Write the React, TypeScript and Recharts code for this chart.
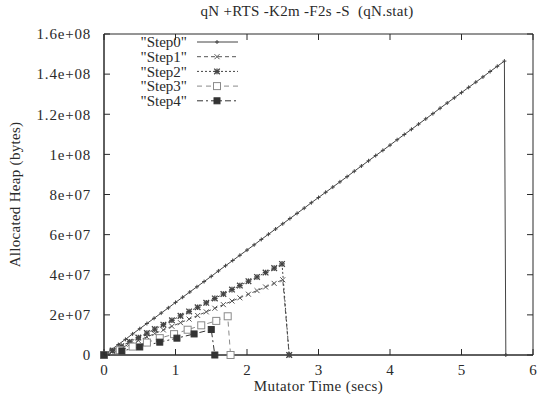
import React from 'react';
import { LineChart, Line, XAxis, YAxis, ReferenceArea } from 'recharts';

// heap values are in millions of bytes (MB), time in seconds
const step0Time = [0, 0.1, 0.2, 0.3, 0.4, 0.5, 0.6, 0.7, 0.8, 0.9, 1.0, 1.1, 1.2, 1.3, 1.4, 1.5, 1.6, 1.7, 1.8, 1.9, 2.0, 2.1, 2.2, 2.3, 2.4, 2.5, 2.6, 2.7, 2.8, 2.9, 3.0, 3.1, 3.2, 3.3, 3.4, 3.5, 3.6, 3.7, 3.8, 3.9, 4.0, 4.1, 4.2, 4.3, 4.4, 4.5, 4.6, 4.7, 4.8, 4.9, 5.0, 5.1, 5.2, 5.3, 5.4, 5.5, 5.6, 5.62];
const step0Heap = [0, 2.6, 5.2, 7.8, 10.5, 13.1, 15.7, 18.3, 20.9, 23.5, 26.2, 28.8, 31.4, 34.0, 36.6, 39.2, 41.9, 44.5, 47.1, 49.7, 52.3, 54.9, 57.6, 60.2, 62.8, 65.4, 68.0, 70.6, 73.2, 75.9, 78.5, 81.1, 83.7, 86.3, 88.9, 91.6, 94.2, 96.8, 99.4, 102.0, 104.6, 107.3, 109.9, 112.5, 115.1, 117.7, 120.3, 123.0, 125.6, 128.2, 130.8, 133.4, 136.0, 138.6, 141.3, 143.9, 146.5, 0];

const step1Time = [0, 0.12, 0.24, 0.36, 0.48, 0.6, 0.71, 0.83, 0.95, 1.07, 1.19, 1.31, 1.43, 1.55, 1.67, 1.79, 1.9, 2.02, 2.14, 2.26, 2.38, 2.5, 2.59];
const step1Heap = [0, 1.8, 3.6, 5.4, 7.2, 9.0, 10.7, 12.5, 14.3, 16.1, 17.9, 19.7, 21.5, 23.3, 25.1, 26.9, 28.5, 30.3, 32.1, 33.9, 35.7, 37.5, 0];

const step2Time = [0, 0.12, 0.24, 0.36, 0.48, 0.6, 0.71, 0.83, 0.95, 1.07, 1.19, 1.31, 1.43, 1.55, 1.67, 1.79, 1.9, 2.02, 2.14, 2.26, 2.38, 2.49, 2.59];
const step2Heap = [0, 2.2, 4.4, 6.6, 8.7, 10.9, 12.9, 15.1, 17.3, 19.5, 21.7, 23.8, 26.0, 28.2, 30.4, 32.6, 34.6, 36.8, 38.9, 41.1, 43.3, 45.4, 0];

const step3Time = [0, 0.22, 0.4, 0.6, 0.78, 0.98, 1.17, 1.36, 1.57, 1.73, 1.77];
const step3Heap = [0, 2.4, 4.2, 6.2, 8.4, 10.4, 12.6, 14.8, 17.0, 19.3, 0];

const step4Time = [0, 0.25, 0.5, 0.78, 1.02, 1.26, 1.5, 1.55];
const step4Heap = [0, 2.0, 4.0, 6.4, 8.4, 10.5, 12.7, 0];

const xTicks = [0, 1, 2, 3, 4, 5, 6];
const yTicks = [0, 20, 40, 60, 80, 100, 120, 140, 160];

const FONT = '"Liberation Serif", "Times New Roman", serif';
const INK = '#2a2a2a';
const PLOT_TOP = 34;
const PLOT_BOTTOM = 355;
const PLOT_LEFT = 104;
const PLOT_RIGHT = 533;

type MarkerKind = 'plus' | 'cross' | 'star' | 'openSquare' | 'filledSquare';

const series = [
  { name: 'Step0', time: step0Time, heap: step0Heap, kind: 'plus' as MarkerKind, dash: undefined, color: '#444' },
  { name: 'Step1', time: step1Time, heap: step1Heap, kind: 'cross' as MarkerKind, dash: '4 3', color: '#555' },
  { name: 'Step2', time: step2Time, heap: step2Heap, kind: 'star' as MarkerKind, dash: '2 2', color: '#444' },
  { name: 'Step3', time: step3Time, heap: step3Heap, kind: 'openSquare' as MarkerKind, dash: '5 4', color: '#8a8a8a' },
  { name: 'Step4', time: step4Time, heap: step4Heap, kind: 'filledSquare' as MarkerKind, dash: '6 3 2 3', color: '#333' },
];

// gnuplot-like "1.2e+08"
const fmtBytes = (v: number) => {
  if (v === 0) return '0';
  const n = v * 1e6;
  const exp = Math.floor(Math.log10(n) + 1e-9);
  const mant = Math.round((n / Math.pow(10, exp)) * 10) / 10;
  return `${mant}e+${exp < 10 ? '0' + exp : exp}`;
};

const Marker = ({ kind, cx, cy, color }: { kind: MarkerKind; cx: number; cy: number; color: string }) => {
  if (cx == null || cy == null) return null;
  switch (kind) {
    case 'plus': {
      const s = 2;
      return (
        <g stroke={color} strokeWidth={1}>
          <line x1={cx - s} x2={cx + s} y1={cy} y2={cy} />
          <line x1={cx} x2={cx} y1={cy - s} y2={cy + s} />
        </g>
      );
    }
    case 'cross': {
      const s = 2.5;
      return (
        <g stroke={color} strokeWidth={1}>
          <line x1={cx - s} x2={cx + s} y1={cy - s} y2={cy + s} />
          <line x1={cx - s} x2={cx + s} y1={cy + s} y2={cy - s} />
        </g>
      );
    }
    case 'star': {
      const s = 2.8;
      return (
        <g stroke={color} strokeWidth={1.3}>
          <line x1={cx - s} x2={cx + s} y1={cy} y2={cy} />
          <line x1={cx} x2={cx} y1={cy - s} y2={cy + s} />
          <line x1={cx - s} x2={cx + s} y1={cy - s} y2={cy + s} />
          <line x1={cx - s} x2={cx + s} y1={cy + s} y2={cy - s} />
        </g>
      );
    }
    case 'openSquare':
      return <rect x={cx - 3.5} y={cy - 3.5} width={7} height={7} fill="#fff" stroke={color} strokeWidth={1} />;
    case 'filledSquare':
      return <rect x={cx - 3} y={cy - 3} width={6} height={6} fill={color} stroke={color} />;
  }
  return null;
};

const XTick = (props: any) => {
  const { x, y, payload } = props;
  return (
    <g>
      <line x1={x} x2={x} y1={PLOT_BOTTOM} y2={PLOT_BOTTOM - 6} stroke={INK} />
      <line x1={x} x2={x} y1={PLOT_TOP} y2={PLOT_TOP + 6} stroke={INK} />
      <text x={x} y={y} dy="0.71em" textAnchor="middle" fill={INK} fontSize={15} fontFamily={FONT}>
        {payload.value}
      </text>
    </g>
  );
};

const YTick = (props: any) => {
  const { x, y, payload } = props;
  return (
    <g>
      <line x1={PLOT_LEFT} x2={PLOT_LEFT + 6} y1={y} y2={y} stroke={INK} />
      <line x1={PLOT_RIGHT} x2={PLOT_RIGHT - 6} y1={y} y2={y} stroke={INK} />
      <text x={x} y={y} dy="0.35em" textAnchor="end" fill={INK} fontSize={15} letterSpacing={0.8} fontFamily={FONT}>
        {fmtBytes(payload.value)}
      </text>
    </g>
  );
};

const KeyBox = () => (
  <svg width={140} height={80} style={{ position: 'absolute', left: 100, top: 34 }}>
    {series.map((s, i) => {
      const cy = 8 + i * 14.7;
      return (
        <g key={s.name}>
          <text x={87} y={cy} dy="0.35em" textAnchor="end" fill={INK} fontSize={15} fontFamily={FONT}>
            {`"${s.name}"`}
          </text>
          <line x1={97} x2={138} y1={cy} y2={cy} stroke={s.color} strokeDasharray={s.dash} />
          <Marker kind={s.kind} cx={117} cy={cy} color={s.color} />
        </g>
      );
    })}
  </svg>
);

export default function App() {
  return (
    <div style={{ position: 'absolute', left: 0, top: 0, width: 538, height: 398, background: '#fff', fontFamily: FONT }}>
      <div
        style={{
          position: 'absolute',
          left: 0,
          width: 614,
          top: 3,
          textAlign: 'center',
          fontSize: 15,
          letterSpacing: 0.3,
          color: INK,
          whiteSpace: 'pre',
        }}
      >
        {'qN +RTS -K2m -F2s -S  (qN.stat)'}
      </div>
      <LineChart width={538} height={398} margin={{ top: PLOT_TOP, right: 538 - PLOT_RIGHT, bottom: 0, left: 0 }}>
        <ReferenceArea x1={0} x2={6} y1={0} y2={160} fill="none" stroke={INK} strokeWidth={1} ifOverflow="visible" />
        <XAxis
          type="number"
          dataKey="t"
          domain={[0, 6]}
          ticks={xTicks}
          height={398 - PLOT_BOTTOM}
          tickSize={0}
          tickMargin={9}
          tickLine={false}
          axisLine={{ stroke: INK }}
          tick={<XTick />}
          allowDuplicatedCategory={false}
          label={{ value: 'Mutator Time (secs)', position: 'insideBottom', offset: 7, fill: INK, fontSize: 15, letterSpacing: 0.4, fontFamily: FONT }}
        />
        <YAxis
          type="number"
          dataKey="heap"
          domain={[0, 160]}
          ticks={yTicks}
          width={PLOT_LEFT}
          tickSize={0}
          tickMargin={13}
          tickLine={false}
          axisLine={{ stroke: INK }}
          tick={<YTick />}
          label={{ value: 'Allocated Heap (bytes)', angle: -90, position: 'insideLeft', offset: 15, fill: INK, fontSize: 15, letterSpacing: 0.3, fontFamily: FONT, style: { textAnchor: 'middle' } }}
        />
        {series.map((s) => (
          <Line
            key={s.name}
            name={s.name}
            data={s.time.map((t, i) => ({ t, heap: s.heap[i] }))}
            dataKey="heap"
            type="linear"
            stroke={s.color}
            strokeWidth={1}
            strokeDasharray={s.dash}
            dot={(p: any) => <Marker key={`${s.name}-${p.index}`} kind={s.kind} cx={p.cx} cy={p.cy} color={s.color} />}
            activeDot={false}
            isAnimationActive={false}
          />
        ))}
      </LineChart>
      <KeyBox />
    </div>
  );
}
